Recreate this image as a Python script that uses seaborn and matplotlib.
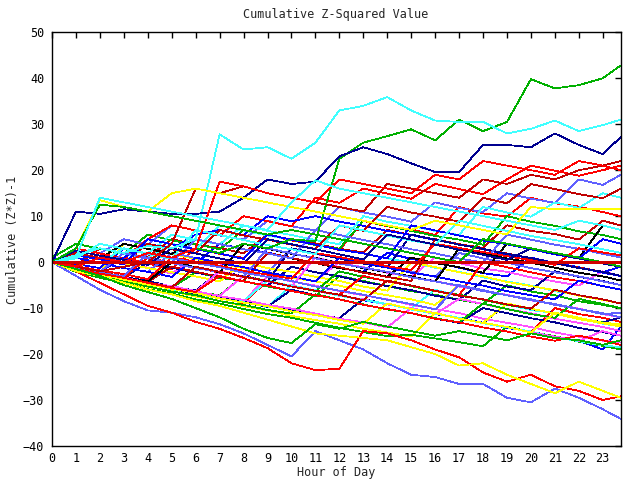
import numpy as np
import pandas as pd
import seaborn as sns
import matplotlib
matplotlib.use("Agg")
import matplotlib.pyplot as plt

# hour of day, one reading per hour (last one at 23:45)
hours = list(range(24)) + [23.75]

# values, one list per station
green_top  = [0, -1, 1, 0, 2, 1, 3, 2, 4, 3, 5, 4.5, 22.5, 26, 27.4, 28.9, 26.5, 31, 28.5, 30.5, 39.8, 37.8, 38.5, 40, 42.8]
cyan_top   = [0, 1.5, 3, 2, 3.5, 3, 5, 27.8, 24.5, 25, 22.5, 26, 33, 34, 35.9, 33, 30.8, 30.5, 30.5, 28, 29, 30.8, 28.5, 29.8, 31]
navy_top   = [0, 11, 10.5, 11.5, 11, 10.5, 10.5, 11, 14, 18, 17, 17.5, 23, 25, 23.5, 21.5, 19.6, 19.6, 25.5, 25.5, 25, 28, 25.5, 23.5, 27.2]
blue_low   = [0, -3, -6, -8.5, -10.5, -11, -12, -13.5, -15.5, -18, -20.5, -15, -17, -19, -22, -24.5, -25, -26.5, -26.5, -29.5, -30.5, -27.5, -29.5, -32, -34.1]
red_low    = [0, -2, -4.5, -7, -9.5, -11, -13, -14.5, -16.5, -18.7, -22, -23.5, -23.2, -15, -15.5, -17, -19, -20.7, -24, -26, -24.5, -27, -28, -30, -29.2]
yellow_low = [0, -2, -3, -4.5, -6, -7, -8.5, -9.5, -11, -12.5, -14, -15.5, -16, -16.5, -17, -18.5, -20, -22.5, -22, -24.5, -26.5, -28.5, -26, -28, -29.5]
green_low  = [0, -1.5, -3, -5, -6.5, -8, -10, -12, -14.5, -16.5, -17.6, -13.5, -14.5, -13, -14, -15, -16, -15, -16, -17, -15.5, -16.5, -17, -18, -17]
dred_hi    = [0, -1, -2, -1, 0, 4, 16, 15, 16.5, 15, 14, 13, 12, 11, 17, 16, 15, 14, 18, 17, 19, 18, 20, 21, 22]
red_hi     = [0, -1, 1, 0, 2, 1, 3, 17.5, 16.5, 15, 14, 13, 18, 17, 16, 15, 19, 18, 22, 21, 20, 19, 22, 21, 20]
yellow_hi  = [0, 3, 13.5, 12, 11, 15, 16, 15, 14, 13, 12, 11, 10, 9, 8, 7, 9, 8, 7, 6, 12, 11.5, 11.5, 11.5, 11.5]
green_hi   = [0, 3, 12.5, 12, 11, 10, 9, 8, 7, 6, 7, 6, 5, 4, 3, 2, 1, 0, 5, 4, 3, 2, 1, 0, -1]
cyan_hi    = [0, 1, 14, 13, 12, 11, 10, 9, 8, 7, 13, 17.8, 16, 15, 14, 13, 12, 11, 10, 9, 8, 7, 9, 8, 7]

b01 = [0, -1.2, -2.1, 1, -0.3, -1.5, 3, 1.8, 0.9, 6, 4.7, 3.9, 2.6, 9, 7.8, 7.1, 5.9, 12, 10.6, 9.9, 14, 12.8, 12.1, 10.9, 10]
b02 = [0, -1.4, -2.7, -3.5, -4.9, -5.6, -2.2, -3.4, -4.1, -5.3, -6.2, -7.4, -3, -4.1, -5.2, -6.3, -7.1, -8.2, -9.1, -5, -6.4, -7.2, -8.5, -9.3, -10]
b03 = [1, -0.4, -1.3, 3, 1.9, 0.8, -0.3, 4, 2.8, 2.1, 0.9, -0.2, -1.3, -2.1, 2, 0.7, -0.1, -1.2, -2.4, -3.1, 1, -0.2, -1.1, -2.3, -3]
b04 = [0, 2, 0.7, -0.4, -1.2, -2.5, 1, -0.3, -1.1, -2.2, -3.4, -4.1, 0, -1.3, -2.1, -3.2, 1, -0.2, -1.4, -2.1, -3.3, -4.2, -5.1, -2, -3]
b05 = [0, -1.5, -2.6, -3.8, -4.7, -5.9, -6.8, -7.9, -8.7, -9.8, -5, -6.2, -7.1, -8.3, -9.2, -10.1, -6, -7.3, -8.1, -9.2, -10.4, -11.1, -12.2, -13.4, -14]
b06 = [0, -0.8, 3, 1.9, 1.1, 5, 3.8, 3.1, 1.9, 6, 4.8, 4.1, 2.9, 2.1, 7, 5.9, 4.8, 3.9, 3.1, 8, 6.8, 6.1, 4.9, 9, 8]
b07 = [0, -1.3, -2.2, 4, 2.9, 1.8, 0.7, -0.2, -1.3, -2.1, -3.4, -4.2, -5.1, -6.3, -7.2, -8.1, -9.3, -5, -6.1, -7.2, -8.3, -9.1, -10.2, -11.3, -12]
b08 = [0, -1.6, -2.5, -3.4, 0, -1.2, -2.3, -3.1, -4.2, -5.1, -1, -2.2, -3.1, -4.3, -5.2, -6.1, -7.3, -8.2, -4, -5.3, -6.1, -2, -3.2, -4.1, -5]
b09 = [0, 1, -0.2, -1.3, -2.1, 2, 0.9, -0.2, -1.1, -2.3, 3, 1.8, 0.9, -0.3, -1.2, -2.1, -3.2, 2, 0.8, -0.1, -1.3, -2.2, -3.1, -4.2, -5]
b10 = [0, -1.5, -2.8, -3.6, -4.9, -5.7, -6.8, -7.6, -8.9, -4, -5.2, -6.1, -7.3, -8.2, -9.1, -10.3, -11.2, -12.1, -13.3, -14.1, -15.2, -10, -11.3, -12.1, -13]
b11 = [1, 4, 2.9, 1.8, 6, 4.7, 3.9, 2.8, 7, 5.8, 4.9, 3.7, 2.9, 9, 7.9, 6.8, 5.7, 4.9, 3.8, 10, 8.8, 7.9, 6.7, 5.9, 5]
b12 = [0, -1.3, -2.4, -3.6, -4.5, -5.7, -6.3, -2, -3.1, -4.2, -5.3, -6.1, -7.2, -8.3, -9.1, -10.2, -11.3, -12.1, -13.2, -14.3, -15.1, -16.2, -17.1, -19, -14]
b13 = [0, -1.7, -2.9, -3.8, -4.6, -5.5, -6.7, -7.4, -8.6, -3, -4.2, -5.1, -6.3, -7.2, -8.1, -9.3, -10.2, -11.1, -12.3, -13.2, -14.1, -15.3, -16.2, -17.1, -17.5]
b14 = [0, 2, 3, 1.8, 0.9, 4, 2.8, 8, 6.9, 5.8, 4.9, 3.8, 2.7, 1.9, 0.8, -0.1, -1.2, -2.1, -3.3, -4.2, -5.1, -6.3, -7.2, -8.1, -9]
b15 = [0, 2, 0.8, 4, 2.9, 1.8, 5, 3.9, 2.8, 1.9, 0.8, -0.2, -1.3, -2.1, -3.2, 1, -0.2, -1.1, -2.3, 4, 2.8, 1.9, 0.8, 8, 7]
b16 = [0, -1.1, 1, -0.2, -1.3, -2.2, -3.1, -4.2, 0, -1.3, -2.1, -3.2, -4.1, -5.3, -6.2, 0, -1.1, -2.2, -3.1, -4.3, -5.2, -6.1, -7.3, -8.2, -9]
b17 = [0, -1.8, -2.6, -3.9, -4.8, -5.6, -6.9, -7.7, -8.5, -9.6, -10.4, -11.3, -12.2, -8, -9.2, -10.1, -11.2, -12.1, -13.3, -9, -10.2, -11.1, -12.2, -13.1, -12]
b18 = [0, 3, 1.9, 5, 3.8, 8, 6.9, 5.8, 4.9, 9, 7.8, 6.9, 12, 10.8, 9.9, 8.8, 13, 11.8, 10.9, 15, 13.8, 12.9, 18, 16.8, 19]
b19 = [0, 3, 1.9, 0.8, 5, 8, 6.9, 5.8, 10, 8.9, 7.8, 14, 12.9, 16, 14.9, 13.8, 17, 15.9, 14.8, 18, 21, 19.9, 18.8, 20, 21]
b20 = [0, -1.4, -2.3, -3.5, -4.4, -5.3, -6.5, -7.2, -3, -4.1, -5.2, -6.3, -2, -3.2, -4.1, -5.2, -6.3, -7.1, -8.2, -9.3, -10.1, -11.2, -12.3, -13.1, -14]
b21 = [0, -1.2, -2.1, 1, 4, 2.9, 6, 7, 5.9, 10, 8.9, 10, 8.8, 7.9, 6.8, 5.9, 4.8, 3.9, 2.8, 1.7, 0.9, -0.2, -1.1, -2.2, -1]
b22 = [0, -1.6, -2.7, -3.5, -4.6, -5.4, -6.6, -7.3, -3, -4.2, -5.1, -6.2, -7.3, -8.1, -9.2, -10.1, -11.3, -8, -9.1, -10.2, -11.1, -12.3, -13.2, -14.1, -15]
b23 = [0, 1, -0.2, 3, 1.9, 6, 4.8, 3.9, 8, 6.8, 5.9, 4.8, 3.9, 10, 8.8, 7.9, 6.8, 5.9, 12, 10.8, 9.9, 13, 11.8, 15, 14]
b24 = [0, -1.3, -2.2, -3.1, -4.3, -1, -2.1, -3.2, -4.1, 2, 0.9, -0.2, -1.1, -2.3, -3.2, -4.1, 5, 3.9, 2.8, 1.9, 0.8, -0.3, -1.2, -2.1, -3]
b25 = [0, -1.9, -3.1, -4.2, -5.4, -6.3, -7.5, -8.4, -9.6, -10.5, -11.7, -12.6, -13.4, -14.5, -15.3, -16.2, -11, -12.3, -13.2, -9, -10.1, -11.2, -12.4, -13.3, -14]
b26 = [0, -1.1, -2.3, -3.2, -4.1, -5.3, -6.2, -2, -3.1, -4.2, 3, 1.9, 0.8, -0.3, -1.2, 6, 4.9, 3.8, 2.9, 1.8, 0.9, -0.2, -1.3, -2.1, -3]
b27 = [0, -1.2, -2.1, 2, 0.8, -0.1, 5, 3.9, 2.8, 1.9, 0.8, 7, 5.9, 4.8, 3.9, 2.8, 1.9, 0.8, -0.1, 6, 4.9, 3.8, 2.9, 1.8, 1]
b28 = [0, -1.5, -2.4, -3.3, 1, -0.2, -1.1, -2.3, -3.2, -4.1, -5.3, -6.2, -7.1, -3, -4.2, -5.1, -6.3, -7.2, 0, -1.1, -2.2, -3.3, -4.1, -5.2, -6]
b29 = [0, -2.1, -3.4, -4.5, -5.9, -6.8, -8.1, -9, -10.2, -11.3, -12.1, -13.2, -14.3, -15.2, -16.1, -15.8, -16.6, -17.4, -18.3, -14, -15.2, -16.1, -17.3, -18.2, -19]
b30 = [0, 1, -0.2, -1.3, -2.1, -3.2, 1, -0.2, -1.1, -2.3, -3.1, -4.2, 1, -0.1, -1.2, -2.3, -3.1, -4.2, -5.1, -6.3, -7.2, -8.1, -4, -5.2, -6]
b31 = [0, -1.3, -2.5, -3.4, -4.6, -5.5, -6.4, -2, -3.2, -4.1, -5.3, 1, -0.2, -1.1, -2.3, -3.2, -4.1, -5.3, -6.2, -7.1, -8.3, -9.2, -10.1, -11.3, -12]
b32 = [0, -1.7, -2.8, -3.9, -4.7, -5.8, -6.6, -7.7, -8.5, -4, -5.2, -6.1, -7.3, -8.2, -9.1, -10.3, -11.2, -12.1, -13.3, -14.2, -15.1, -16.3, -17.2, -18.1, -18.5]
b33 = [0, 2, 0.9, -0.2, 4, 2.8, 1.9, 7, 5.8, 4.9, 3.8, 2.9, 8, 6.8, 12, 10.8, 9.9, 8.8, 14, 12.8, 17, 15.9, 14.8, 13.9, 16]
b34 = [0, -1.2, -2.3, -3.4, -4.2, 0, -1.1, -2.2, 4, 2.9, 1.8, 0.9, -0.2, -1.3, -2.2, -3.1, -4.2, 3, 1.9, 0.8, -0.1, -1.2, -2.3, -3.1, -4]
b35 = [0, -1.6, -2.5, -3.7, -4.8, -5.7, -6.9, -7.6, -8.8, -9.7, -6, -7.2, -8.1, -9.3, -10.2, -11.1, -12.3, -13.2, -10, -11.1, -12.2, -13.1, -14.3, -15.2, -16]
b36 = [0, -1.1, -2.2, 2, 0.9, -0.2, -1.3, -2.1, -3.2, 3, 1.9, 0.8, -0.3, -1.2, -2.1, -3.3, -4.2, -5.1, -6.3, -7.2, -8.1, -9.3, -10.2, -11.1, -12]
b37 = [0, -0.9, -1.8, -2.6, -3.7, 1, 0.1, -0.8, -1.9, -2.7, -3.6, 2, 1.1, 0.2, -0.9, -1.7, 4, 3.1, 2.2, 1.3, 0.4, -0.6, 3, 2.1, 1.5]
b38 = [0, -1.8, -3.2, -4.1, -5.3, -6.4, -7.2, -8.5, -9.3, -10.4, -11.2, -7, -8.1, -9.2, -10.3, -11.1, -12.2, -13.1, -9, -10.2, -11.3, -12.1, -8, -9.1, -10]
b39 = [0, 1.5, 0.6, -0.5, 5, 3.9, 2.8, 1.9, 0.7, 6, 4.9, 3.8, 2.7, 1.9, 0.8, 8, 6.9, 5.8, 4.7, 3.9, 2.8, 1.7, 0.8, 5, 4]
b40 = [0, -1.1, -2.4, -3.3, -4.5, -5.2, -6.3, -7.4, -8.2, -9.3, -10.1, -11.2, -12.3, -13.1, -14.2, -10, -11.1, -12.3, -13.2, -14.1, -15.3, -16.2, -17.1, -15, -16]
b41 = [0, 0.8, 4, 2.9, 1.8, 0.7, 7, 5.9, 4.8, 3.7, 2.8, 1.7, 8, 6.9, 5.8, 4.7, 3.8, 9, 7.9, 6.8, 5.7, 4.8, 3.9, 2.8, 2]
b42 = [0, -1.4, -2.2, -3.6, -4.4, -5.5, -1, -2.1, -3.2, -4.1, -5.3, -6.2, -7.1, -8.3, -4, -5.1, -6.2, -7.3, -8.1, -9.2, -10.1, -6, -7.2, -8.1, -9]
b43 = [0, -1.7, -2.6, -3.8, -4.9, -5.8, -6.7, -7.9, -8.8, -9.6, -10.7, -11.5, -12.6, -13.4, -9, -10.2, -11.1, -12.3, -13.2, -14.1, -15.3, -11, -12.1, -13.2, -13.5]
b44 = [0, 2.5, 1.4, 0.5, -0.6, 3, 1.9, 0.8, -0.3, 5, 3.9, 2.8, 1.7, 0.6, 6, 4.9, 3.8, 2.7, 1.6, 0.5, 3, 1.9, 0.8, -0.3, -1]
b45 = [0, -1.2, -2.3, -3.1, 2, 0.9, -0.2, -1.1, -2.3, -3.2, -4.1, -5.3, -6.2, -7.1, -8.2, -9.1, -10.3, -5, -6.1, -7.2, -8.3, -9.1, -10.2, -11.3, -11]
b46 = [0, -1.5, -2.5, -3.4, -4.5, -5.6, -6.5, -3, -4.2, -5.1, -6.3, -7.2, -8.1, -9.3, -10.2, -11.1, -12.3, -13.1, -14.2, -15.1, -16.2, -17.1, -16, -17, -18]
flat_zero = [0] * 25

series = {
    "b01": b01, "b02": b02, "b03": b03, "b04": b04, "b05": b05, "b06": b06,
    "b07": b07, "b08": b08, "b09": b09, "b10": b10, "b11": b11, "b12": b12,
    "b13": b13, "b14": b14, "b15": b15, "b16": b16, "b17": b17, "b18": b18,
    "b19": b19, "b20": b20, "b21": b21, "b22": b22, "b23": b23, "b24": b24,
    "b25": b25, "b26": b26, "b27": b27, "b28": b28, "b29": b29, "b30": b30,
    "b31": b31, "b32": b32, "b33": b33, "b34": b34, "b35": b35, "b36": b36,
    "b37": b37, "b38": b38, "b39": b39, "b40": b40, "b41": b41, "b42": b42,
    "b43": b43, "b44": b44, "b45": b45, "b46": b46,
    "green_top": green_top, "cyan_top": cyan_top, "navy_top": navy_top,
    "blue_low": blue_low, "red_low": red_low, "yellow_low": yellow_low,
    "green_low": green_low, "dred_hi": dred_hi, "red_hi": red_hi,
    "yellow_hi": yellow_hi, "green_hi": green_hi, "cyan_hi": cyan_hi,
}

# gnuplot-ish line colours
RED, GREEN, BLUE, MAG, CYAN = "#ff0000", "#00b000", "#0000ff", "#ff50ff", "#40ffff"
YEL, BLACK, DRED, NAVY, PERI = "#ffff00", "#000000", "#c00000", "#000090", "#6060ff"
cycle = [RED, GREEN, BLUE, MAG, CYAN, DRED, YEL, NAVY, PERI]
palette = {}
for i, name in enumerate([k for k in series if k.startswith("b")]):
    palette[name] = cycle[i % len(cycle)]
palette["b15"] = BLACK
palette["b34"] = BLACK
palette.update({
    "green_top": GREEN, "cyan_top": CYAN, "navy_top": NAVY, "blue_low": PERI,
    "red_low": RED, "yellow_low": YEL, "green_low": GREEN, "dred_hi": DRED,
    "red_hi": RED, "yellow_hi": YEL, "green_hi": GREEN, "cyan_hi": CYAN,
})

rows = []
for name, vals in series.items():
    for h, v in zip(hours, vals):
        rows.append((name, h, v))
df = pd.DataFrame(rows, columns=["series", "hour", "value"])

sns.set_style("white")
plt.rcParams["font.family"] = ["DejaVu Sans Mono"]
plt.rcParams["lines.antialiased"] = False

fig = plt.figure(figsize=(6.4, 4.8), dpi=100)
ax = fig.add_axes([52 / 640, 34 / 480, 568.7 / 640, 413.7 / 480])

sns.lineplot(data=df, x="hour", y="value", hue="series", palette=palette,
             hue_order=list(series.keys()), estimator=None, legend=False,
             linewidth=0.55, ax=ax)
# the one flat series sits on top in the reference
zero_df = pd.DataFrame({"hour": hours, "value": flat_zero})
sns.lineplot(data=zero_df, x="hour", y="value", color="#d00000",
             linewidth=1.0, estimator=None, ax=ax)

ax.set_xlim(0, 23.75)
ax.set_ylim(-40, 50)
ax.set_xticks(range(24))
ax.set_yticks(range(-40, 51, 10))
ax.set_xlabel("")
ax.set_ylabel("")
for sp in ax.spines.values():
    sp.set_visible(True)
    sp.set_color("black")
    sp.set_linewidth(1.0)
ax.tick_params(direction="in", length=4, width=1, top=True, right=True,
               labelsize=8.5, colors="black")
ax.tick_params(axis="x", pad=4.5)
ax.tick_params(axis="y", pad=5.5)

fig.text(0.525, 0.969, "Cumulative Z-Squared Value", ha="center", va="center", fontsize=8.5)
fig.text(0.525, 0.016, "Hour of Day", ha="center", va="center", fontsize=8.5)
fig.text(0.019, 0.5, "Cumulative (Z*Z)-1", ha="center", va="center",
         rotation=90, fontsize=8.5)

fig.savefig("out.png", dpi=100)
